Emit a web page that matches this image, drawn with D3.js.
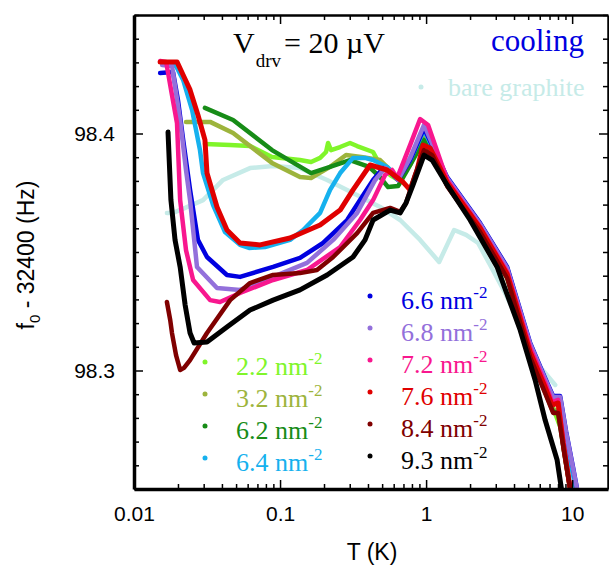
<!DOCTYPE html>
<html>
<head>
<meta charset="utf-8">
<script src="https://cdn.jsdelivr.net/npm/d3@7"></script>
<style>
  body { margin: 0; background: #fff; }
  svg { display: block; }
</style>
</head>
<body>
<div id="chart"></div>
<script>
var svgWidth = 609;
var svgHeight = 568;
var margin = {top: 15, right: 1, bottom: 79, left: 134};
var width = svgWidth - margin.left - margin.right;
var height = svgHeight - margin.top - margin.bottom;

// axis ranges and tick labels
var xDomain = [0.01, 17.6];
var yDomain = [98.25, 98.45];
var xMajor = [0.01, 0.1, 1, 10];
var xLabels = ["0.01", "0.1", "1", "10"];
var yMajor = [98.3, 98.4];
var yLabels = ["98.3", "98.4"];

// [T (K), f0 - 32400 (Hz)]
var bare = [[0.0168, 98.3665], [0.0185, 98.3665], [0.0224, 98.3686], [0.0297, 98.3719], [0.0407, 98.3804],
  [0.0623, 98.3854], [0.0896, 98.3863], [0.137, 98.3854], [0.210, 98.3804], [0.316, 98.3749],
  [0.484, 98.3690], [0.664, 98.3635], [0.910, 98.3551], [1.228, 98.3458], [1.393, 98.3530],
  [1.556, 98.3593], [1.879, 98.3572], [2.27, 98.3538], [2.743, 98.3445], [3.475, 98.3327],
  [4.69, 98.3158], [6.035, 98.3015], [7.656, 98.2939]];

var s22 = [[0.0306, 98.3956], [0.0455, 98.3951], [0.0623, 98.3947], [0.0881, 98.3901], [0.137, 98.3888],
  [0.163, 98.3880], [0.188, 98.3897], [0.2065, 98.3922], [0.2132, 98.3960], [0.2234, 98.3930],
  [0.2576, 98.3943], [0.3014, 98.3960], [0.3368, 98.3947], [0.4335, 98.3922], [0.484, 98.3867],
  [0.567, 98.3825], [0.643, 98.3804], [0.777, 98.3867], [0.968, 98.3994], [1.099, 98.3951],
  [1.393, 98.3795], [2.344, 98.3593], [3.589, 98.3390], [5.577, 98.3023], [7.063, 98.2876],
  [8.955, 98.2707], [10.99, 98.2475]];

var s32 = [[0.0227, 98.4049], [0.0332, 98.4049], [0.0477, 98.4002], [0.0881, 98.3876], [0.137, 98.3816],
  [0.163, 98.3812], [0.220, 98.3859], [0.283, 98.3909], [0.359, 98.3901], [0.484, 98.3888],
  [0.585, 98.3838], [0.643, 98.3804], [0.777, 98.3876], [0.968, 98.3994], [1.393, 98.3787],
  [2.344, 98.3593], [3.589, 98.3399], [5.157, 98.3065], [6.531, 98.2918], [7.413, 98.2833],
  [8.014, 98.2833], [8.81, 98.2665], [9.84, 98.2475]];

var s62 = [[0.0306, 98.4108], [0.0477, 98.4057], [0.0881, 98.3930], [0.163, 98.3833], [0.220, 98.3859],
  [0.301, 98.3888], [0.407, 98.3859], [0.484, 98.3816], [0.549, 98.3774], [0.643, 98.3778],
  [0.777, 98.3867], [0.968, 98.3973], [1.393, 98.3783], [2.344, 98.3589], [3.589, 98.3395],
  [5.157, 98.3061], [6.531, 98.2909], [7.413, 98.2825], [8.014, 98.2825], [8.81, 98.2656],
  [9.84, 98.2475]];

var s64 = [[0.0171, 98.4293], [0.0194, 98.4285], [0.0217, 98.4226], [0.0250, 98.4099], [0.0283, 98.3930],
  [0.0297, 98.3833], [0.0348, 98.3698], [0.0420, 98.3584], [0.0532, 98.3530], [0.0613, 98.3517],
  [0.0789, 98.3521], [0.117, 98.3551], [0.144, 98.3593], [0.188, 98.3665], [0.220, 98.3762],
  [0.258, 98.3833], [0.316, 98.3897], [0.382, 98.3897], [0.4335, 98.3888], [0.541, 98.3859],
  [0.643, 98.3812], [0.777, 98.3888], [0.968, 98.4015], [1.393, 98.3812], [2.344, 98.3618],
  [3.589, 98.3432], [5.157, 98.3108], [6.531, 98.2960], [7.413, 98.2884], [8.276, 98.2884],
  [8.955, 98.2728], [10.0, 98.2580], [10.82, 98.2475]];

var s66 = [[0.0151, 98.4255], [0.0185, 98.4259], [0.0200, 98.4141], [0.0217, 98.3973], [0.0242, 98.3762],
  [0.0274, 98.3551], [0.0316, 98.3479], [0.0433, 98.3403], [0.0532, 98.3395], [0.0896, 98.3437],
  [0.137, 98.3475], [0.197, 98.3538], [0.288, 98.3635], [0.353, 98.3719], [0.4335, 98.3804],
  [0.5075, 98.3854], [0.567, 98.3838], [0.643, 98.3804], [0.777, 98.3888], [0.968, 98.4023],
  [1.393, 98.3816], [2.344, 98.3622], [3.589, 98.3437], [5.157, 98.3116], [6.531, 98.2968],
  [7.413, 98.2892], [8.276, 98.2892], [9.10, 98.2741], [10.16, 98.2589], [10.99, 98.2475]];

var s68 = [[0.0156, 98.4289], [0.0182, 98.4285], [0.0207, 98.4057], [0.0227, 98.3846], [0.0242, 98.3719],
  [0.0270, 98.3437], [0.0370, 98.3348], [0.0532, 98.3340], [0.0896, 98.3395], [0.153, 98.3454],
  [0.231, 98.3551], [0.337, 98.3665], [0.448, 98.3804], [0.524, 98.3854], [0.585, 98.3833],
  [0.643, 98.3804], [0.777, 98.3897], [0.968, 98.4036], [1.393, 98.3812], [2.344, 98.3618],
  [3.589, 98.3432], [5.157, 98.3112], [6.531, 98.2964], [7.413, 98.2888], [8.276, 98.2888],
  [9.10, 98.2737], [10.16, 98.2585], [10.99, 98.2475]];

var s72 = [[0.0151, 98.4306], [0.0166, 98.4302], [0.0182, 98.4162], [0.0197, 98.4044], [0.0207, 98.3719],
  [0.0227, 98.3508], [0.0254, 98.3382], [0.0332, 98.3297], [0.0388, 98.3289], [0.0532, 98.3327],
  [0.0896, 98.3382], [0.153, 98.3424], [0.258, 98.3521], [0.353, 98.3635], [0.4335, 98.3719],
  [0.524, 98.3825], [0.585, 98.3846], [0.633, 98.3812], [0.777, 98.3951], [0.910, 98.4061],
  [1.032, 98.4036], [1.393, 98.3804], [2.344, 98.3605], [3.589, 98.3416], [5.157, 98.3095],
  [6.531, 98.2947], [7.29, 98.2867], [8.014, 98.2876], [8.676, 98.2707], [9.84, 98.2475]];

var s76 = [[0.0151, 98.4302], [0.0197, 98.4302], [0.0217, 98.4247], [0.0242, 98.4184], [0.0274, 98.4078],
  [0.0306, 98.3973], [0.0316, 98.3833], [0.0370, 98.3690], [0.0433, 98.3593], [0.0532, 98.3538],
  [0.0730, 98.3530], [0.117, 98.3559], [0.188, 98.3614], [0.258, 98.3677], [0.316, 98.3762],
  [0.4135, 98.3867], [0.541, 98.3846], [0.6955, 98.3795], [0.777, 98.3762], [0.868, 98.3846],
  [0.953, 98.3951], [1.065, 98.3939], [1.393, 98.3795], [2.344, 98.3601], [3.589, 98.3407],
  [5.157, 98.3078], [6.531, 98.2930], [7.29, 98.2854], [8.014, 98.2863], [8.676, 98.2694],
  [9.84, 98.2475]];

var s84 = [[0.0168, 98.3289], [0.0177, 98.3213], [0.0182, 98.3158], [0.0194, 98.3065], [0.0207, 98.3002],
  [0.0220, 98.3011], [0.0242, 98.3044], [0.0316, 98.3158], [0.0455, 98.3297], [0.0623, 98.3369],
  [0.0896, 98.3403], [0.137, 98.3411], [0.179, 98.3424], [0.231, 98.3479], [0.337, 98.3580],
  [0.4335, 98.3665], [0.567, 98.3686], [0.664, 98.3669], [0.729, 98.3707], [0.8405, 98.3825],
  [0.968, 98.3930], [1.099, 98.3909], [1.393, 98.3778], [2.344, 98.3584], [3.589, 98.3390],
  [5.157, 98.3057], [6.531, 98.2905], [7.413, 98.2821], [8.014, 98.2821], [8.81, 98.2656],
  [9.84, 98.2475]];

var s93 = [[0.0171, 98.4006], [0.0179, 98.3719], [0.0191, 98.3551], [0.0207, 98.3437], [0.0224, 98.3276],
  [0.0242, 98.3158], [0.0258, 98.3116], [0.0316, 98.3120], [0.0433, 98.3184], [0.0623, 98.3255],
  [0.0896, 98.3297], [0.137, 98.3340], [0.210, 98.3403], [0.316, 98.3479], [0.382, 98.3551],
  [0.4335, 98.3635], [0.567, 98.3677], [0.664, 98.3665], [0.729, 98.3707], [0.814, 98.3783],
  [0.968, 98.3909], [1.099, 98.3888], [1.393, 98.3783], [2.001, 98.3635], [3.063, 98.3437],
  [4.406, 98.3171], [5.577, 98.2960], [6.531, 98.2791], [7.892, 98.2622], [8.546, 98.2480]];

var densities = ["2.2", "3.2", "6.2", "6.4", "6.6", "6.8", "7.2", "7.6", "8.4", "9.3"];
var colors = ["#80f52a", "#9db43c", "#178c17", "#16b1ee", "#0000e0", "#9370db", "#f8178e", "#e00000", "#800000", "#000000"];
var series = [s22, s32, s62, s64, s66, s68, s72, s76, s84, s93];
var bareColor = "#c6ebe8";

var svg = d3.select("#chart")
  .append("svg")
  .attr("width", svgWidth)
  .attr("height", svgHeight);

var chartGroup = svg.append("g")
  .attr("transform", `translate(${margin.left}, ${margin.top})`);

var xScale = d3.scaleLog().domain(xDomain).range([0, width]);
var yScale = d3.scaleLinear().domain(yDomain).range([height, 0]);

chartGroup.append("clipPath")
  .attr("id", "plotClip")
  .append("rect")
  .attr("width", width)
  .attr("height", height);

var line = d3.line()
  .x(d => xScale(d[0]))
  .y(d => yScale(d[1]));

var curves = chartGroup.append("g").attr("clip-path", "url(#plotClip)");

curves.append("path")
  .datum(bare)
  .attr("d", line)
  .attr("fill", "none")
  .attr("stroke", bareColor)
  .attr("stroke-width", 4.5)
  .attr("stroke-linejoin", "round")
  .attr("stroke-linecap", "round");

series.forEach(function(s, i) {
  curves.append("path")
    .datum(s)
    .attr("d", line)
    .attr("fill", "none")
    .attr("stroke", colors[i])
    .attr("stroke-width", i == 9 || i == 7 ? 5 : 4.5)
    .attr("stroke-linejoin", "round")
    .attr("stroke-linecap", "round");
});

// tick positions (major + minor)
var xTicks = [];
[0.01, 0.1, 1, 10].forEach(function(dec) {
  for (var k = 1; k <= 9; k++) {
    if (dec * k <= xDomain[1]) xTicks.push(+(dec * k).toPrecision(3));
  }
});
var yTicks = d3.range(9825, 9846).map(d => d / 100);

function xFmt(v) {
  var i = xMajor.indexOf(v);
  return i >= 0 ? xLabels[i] : "";
}
function yFmt(v) {
  var i = yMajor.findIndex(m => Math.abs(m - v) < 1e-6);
  return i >= 0 ? yLabels[i] : "";
}
function isMajorY(v) {
  return yMajor.some(m => Math.abs(m - v) < 1e-6);
}

var bottomAxis = chartGroup.append("g")
  .attr("transform", `translate(0, ${height})`)
  .call(d3.axisBottom(xScale).tickValues(xTicks).tickFormat(xFmt).tickSizeOuter(0).tickPadding(11));
bottomAxis.selectAll(".tick line")
  .attr("y2", d => xMajor.indexOf(d) >= 0 ? -9 : -5);

var topAxis = chartGroup.append("g")
  .call(d3.axisTop(xScale).tickValues(xTicks).tickFormat("").tickSizeOuter(0));
topAxis.selectAll(".tick line")
  .attr("y2", d => xMajor.indexOf(d) >= 0 ? 9 : 5);

var leftAxis = chartGroup.append("g")
  .call(d3.axisLeft(yScale).tickValues(yTicks).tickFormat(yFmt).tickSizeOuter(0).tickPadding(13));
leftAxis.selectAll(".tick line")
  .attr("x2", d => isMajorY(d) ? 9 : 5);

var rightAxis = chartGroup.append("g")
  .attr("transform", `translate(${width}, 0)`)
  .call(d3.axisRight(yScale).tickValues(yTicks).tickFormat("").tickSizeOuter(0));
rightAxis.selectAll(".tick line")
  .attr("x2", d => isMajorY(d) ? -9 : -5);

var sans = "'Liberation Sans', Arial, sans-serif";
var serif = "'Liberation Serif', 'Times New Roman', serif";

[bottomAxis, topAxis, leftAxis, rightAxis].forEach(function(ax) {
  ax.selectAll(".tick line").attr("stroke", "#000").attr("stroke-width", 1.5);
  ax.selectAll("text")
    .attr("font-family", sans)
    .attr("font-size", "21px")
    .attr("fill", "#000");
});
bottomAxis.select(".domain").attr("stroke-width", 3.5);
leftAxis.select(".domain").attr("stroke-width", 3.5);
topAxis.select(".domain").attr("stroke-width", 2.5);
rightAxis.select(".domain").attr("stroke-width", 2.5);

// axis titles
svg.append("text")
  .attr("x", 372)
  .attr("y", 560)
  .attr("text-anchor", "middle")
  .attr("font-family", sans)
  .attr("font-size", "23px")
  .text("T (K)");

var yTitle = svg.append("text")
  .attr("transform", "translate(34, 255) rotate(-90)")
  .attr("text-anchor", "middle")
  .attr("font-family", sans)
  .attr("font-size", "23px");
yTitle.append("tspan").text("f");
yTitle.append("tspan").attr("font-size", "15px").attr("dy", 6).text("0");
yTitle.append("tspan").attr("dy", -6).text(" - 32400 (Hz)");

// annotations
var title = svg.append("text")
  .attr("x", 233)
  .attr("y", 53)
  .attr("font-family", serif)
  .attr("font-size", "30px");
title.append("tspan").text("V");
title.append("tspan").attr("font-size", "19px").attr("dy", 14).attr("dx", 1).text("drv");
title.append("tspan").attr("dy", -14).attr("dx", 3).text("= 20 \u00b5V");

svg.append("text")
  .attr("x", 584)
  .attr("y", 51)
  .attr("text-anchor", "end")
  .attr("font-family", serif)
  .attr("font-size", "31px")
  .attr("fill", "#0000e0")
  .text("cooling");

svg.append("circle")
  .attr("cx", 421)
  .attr("cy", 87)
  .attr("r", 2.5)
  .attr("fill", bareColor);
svg.append("text")
  .attr("x", 448)
  .attr("y", 96)
  .attr("font-family", serif)
  .attr("font-size", "26px")
  .attr("fill", bareColor)
  .text("bare graphite");

// legend
var legend = svg.append("g");
densities.forEach(function(dens, i) {
  var left = i < 4;
  var lx = left ? 205 : 370;
  var ly = left ? 375 + i * 32 : 309 + (i - 4) * 32;
  legend.append("circle")
    .attr("cx", lx)
    .attr("cy", ly - 13)
    .attr("r", 2.5)
    .attr("fill", colors[i]);
  var t = legend.append("text")
    .attr("x", lx + 31)
    .attr("y", ly)
    .attr("font-family", serif)
    .attr("font-size", "26px")
    .attr("fill", colors[i]);
  t.append("tspan").text(dens + " nm");
  t.append("tspan").attr("font-size", "17px").attr("dy", -11).text("-2");
});
</script>
</body>
</html>
